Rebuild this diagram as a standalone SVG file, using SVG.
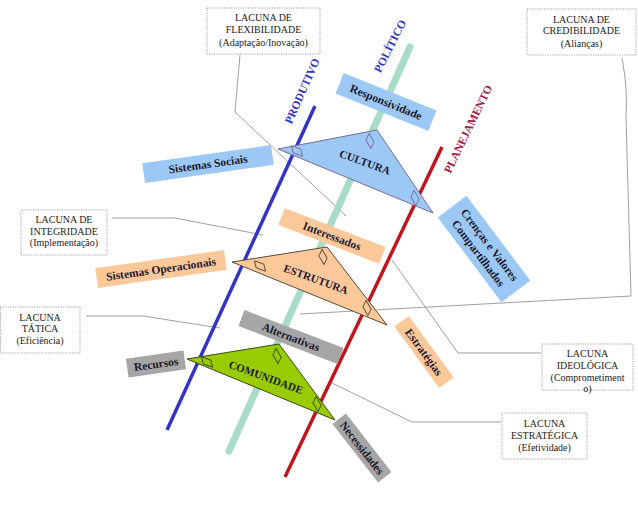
<svg xmlns="http://www.w3.org/2000/svg" width="638" height="505" viewBox="0 0 638 505">
<style>
.box{fill:#fff;stroke:#8a8a8a;stroke-width:0.8;stroke-dasharray:1.2,1.2}
.bt{font-family:"Liberation Serif","Times New Roman",serif;font-size:10px;fill:#222;text-anchor:middle}
.lt{font-family:"Liberation Serif","Times New Roman",serif;font-size:11.5px;font-weight:bold;fill:#1a1a2a;text-anchor:middle;dominant-baseline:central}
.tt{font-family:"Liberation Serif","Times New Roman",serif;font-size:11px;font-weight:bold;fill:#1a1a3a;text-anchor:middle;dominant-baseline:central}
.ax{font-family:"Liberation Serif","Times New Roman",serif;font-size:11.5px;font-weight:bold;text-anchor:middle;dominant-baseline:central}
.con{fill:none;stroke:#777;stroke-width:0.7}
.mk{stroke-width:0.9}
</style>
<rect width="638" height="505" fill="#fff"/>

<g id="connectors">
<path class="con" d="M240,55 L235,112 L346,216"/>
<path class="con" d="M622,58 Q628,90 626,117 L631,296 L300,314"/>
<path class="con" d="M392,260 L458,353 L541,353"/>
<path class="con" d="M112,218 L175,218 L263,235"/>
<path class="con" d="M86,316 L143,316 L220,328"/>
<path class="con" d="M330,382 L412,422 L501,422"/>
</g>

<g id="axes">
<line x1="410" y1="47" x2="229" y2="451" stroke="#a9dcc6" stroke-width="7" stroke-linecap="round"/>
<line x1="315" y1="106" x2="167" y2="430" stroke="#3333c4" stroke-width="3.5"/>
<line x1="442" y1="147" x2="285" y2="477" stroke="#c0141e" stroke-width="3.5"/>
<text class="ax" transform="translate(302,91) rotate(-66)" fill="#3333c4">PRODUTIVO</text>
<text class="ax" transform="translate(390,46) rotate(-63)" fill="#3333c4">POLÍTICO</text>
<text class="ax" transform="translate(468,129) rotate(-64)" fill="#a0204a">PLANEJAMENTO</text>
</g>

<g id="cultura">
<polygon points="278,149 377,130 433,213" fill="#9cc8f5" stroke="#7a6a9a" stroke-width="1"/>
<g fill="none" stroke="#7a6a9a" class="mk">
<path transform="translate(297,151) rotate(20)" d="M-7,-3 L3,-3 L7,3 L-3,3 Z"/>
<path transform="translate(370,141) rotate(60)" d="M-7,-3 L3,-3 L7,3 L-3,3 Z"/>
<path transform="translate(415,198) rotate(60)" d="M-7,-3 L3,-3 L7,3 L-3,3 Z"/>
</g>
<text class="tt" transform="translate(365,162) rotate(20)">CULTURA</text>
</g>

<g id="estrutura">
<polygon points="232,262 327,247 387,325" fill="#fbc89a" stroke="#5a4a3a" stroke-width="1"/>
<g fill="none" stroke="#5a4a3a" class="mk">
<path transform="translate(260,266) rotate(20)" d="M-7,-3 L3,-3 L7,3 L-3,3 Z"/>
<path transform="translate(323,257) rotate(60)" d="M-7,-3 L3,-3 L7,3 L-3,3 Z"/>
<path transform="translate(367,308) rotate(60)" d="M-7,-3 L3,-3 L7,3 L-3,3 Z"/>
</g>
<text class="tt" transform="translate(316,279) rotate(20)">ESTRUTURA</text>
</g>

<g id="comunidade">
<polygon points="187,359 279,344 335,420" fill="#99cc00" stroke="#3a4a10" stroke-width="1"/>
<g fill="none" stroke="#3a4a10" class="mk">
<path transform="translate(207,362) rotate(20)" d="M-7,-3 L3,-3 L7,3 L-3,3 Z"/>
<path transform="translate(277,356) rotate(60)" d="M-7,-3 L3,-3 L7,3 L-3,3 Z"/>
<path transform="translate(317,404) rotate(60)" d="M-7,-3 L3,-3 L7,3 L-3,3 Z"/>
</g>
<text class="tt" transform="translate(266,377) rotate(20)">COMUNIDADE</text>
</g>

<g id="responsividade" transform="translate(386,102) rotate(22)">
<rect x="-50" y="-11" width="100" height="22" fill="#9cc8f5"/>
<text class="lt">Responsividade</text>
</g>
<g id="sistemas-sociais" transform="translate(208,164) rotate(-8)">
<rect x="-65" y="-10" width="130" height="20" fill="#9cc8f5"/>
<text class="lt">Sistemas Sociais</text>
</g>
<g id="interessados" transform="translate(332,236) rotate(21)">
<rect x="-54" y="-9" width="108" height="18" fill="#fbc89a"/>
<text class="lt">Interessados</text>
</g>
<g id="sistemas-operacionais" transform="translate(161,269) rotate(-8)">
<rect x="-65" y="-10" width="130" height="20" fill="#fbc89a"/>
<text class="lt">Sistemas Operacionais</text>
</g>
<g id="crencas" transform="translate(484,249) rotate(53)">
<rect x="-53" y="-18" width="106" height="36" fill="#9cc8f5"/>
<text class="lt" y="-7">Crenças e Valores</text>
<text class="lt" y="7">Compartilhados</text>
</g>
<g id="alternativas" transform="translate(291,337) rotate(21)">
<rect x="-53" y="-8.5" width="106" height="17" fill="#a6a6a6"/>
<text class="lt">Alternativas</text>
</g>
<g id="recursos" transform="translate(156,364) rotate(-8)">
<rect x="-29" y="-9.5" width="58" height="19" fill="#a6a6a6"/>
<text class="lt">Recursos</text>
</g>
<g id="estrategias" transform="translate(424,352) rotate(54)">
<rect x="-38" y="-9" width="76" height="18" fill="#fbc89a"/>
<text class="lt">Estratégias</text>
</g>
<g id="necessidades" transform="translate(362,448) rotate(52)">
<rect x="-37" y="-8.5" width="74" height="17" fill="#a6a6a6"/>
<text class="lt">Necessidades</text>
</g>

<g id="lacuna-flexibilidade">
<rect class="box" x="207" y="8" width="113" height="46"/>
<text class="bt" x="263.5" y="21">LACUNA DE</text>
<text class="bt" x="263.5" y="33">FLEXIBILIDADE</text>
<text class="bt" x="263.5" y="46">(Adaptação/Inovação)</text>
</g>
<g id="lacuna-credibilidade">
<rect class="box" x="527" y="9" width="109" height="46"/>
<text class="bt" x="581.5" y="23">LACUNA DE</text>
<text class="bt" x="581.5" y="34">CREDIBILIDADE</text>
<text class="bt" x="581.5" y="47">(Alianças)</text>
</g>
<g id="lacuna-integridade">
<rect class="box" x="21" y="210" width="86" height="45"/>
<text class="bt" x="64" y="223">LACUNA DE</text>
<text class="bt" x="64" y="235">INTEGRIDADE</text>
<text class="bt" x="64" y="246">(Implementação)</text>
</g>
<g id="lacuna-tatica">
<rect class="box" x="0.5" y="307" width="79.5" height="46"/>
<text class="bt" x="40" y="321">LACUNA</text>
<text class="bt" x="40" y="332">TÁTICA</text>
<text class="bt" x="40" y="344">(Eficiência)</text>
</g>
<g id="lacuna-ideologica">
<rect class="box" x="542" y="344" width="91" height="46"/>
<text class="bt" x="587.5" y="357">LACUNA</text>
<text class="bt" x="587.5" y="369">IDEOLÓGICA</text>
<text class="bt" x="587.5" y="381">(Comprometiment</text>
<text class="bt" x="587.5" y="392">o)</text>
</g>
<g id="lacuna-estrategica">
<rect class="box" x="502" y="413" width="85" height="46"/>
<text class="bt" x="544.5" y="427">LACUNA</text>
<text class="bt" x="544.5" y="439">ESTRATÉGICA</text>
<text class="bt" x="544.5" y="451">(Efetividade)</text>
</g>
</svg>
